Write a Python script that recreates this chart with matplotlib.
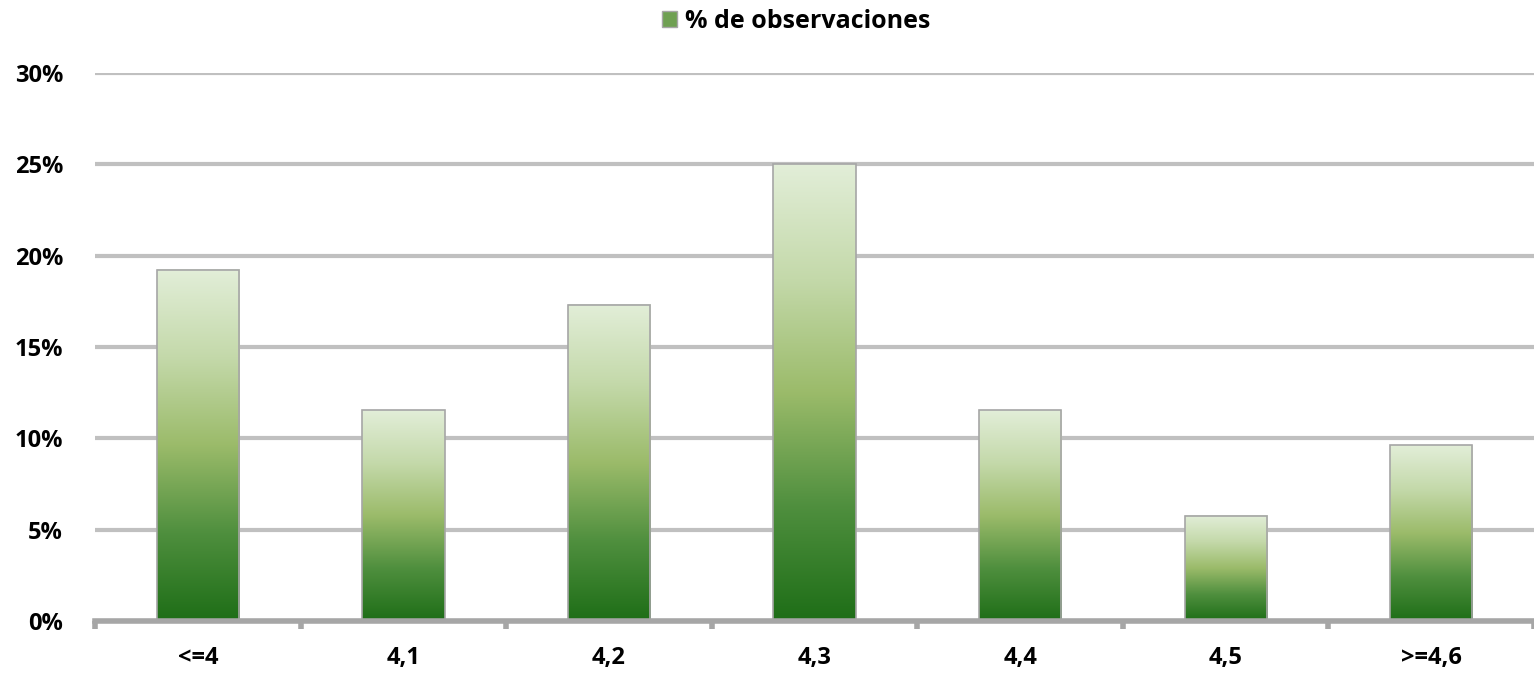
import matplotlib.pyplot as plt
import numpy as np
from matplotlib.colors import LinearSegmentedColormap
from matplotlib.patches import Patch

# Data
categories = ['<=4', '4,1', '4,2', '4,3', '4,4', '4,5', '>=4,6']
pct_obs = [19.23, 11.54, 17.31, 25.0, 11.54, 5.77, 9.62]
yticks = [0, 5, 10, 15, 20, 25, 30]
legend_label = '% de observaciones'

plt.rcParams['font.family'] = ['Open Sans', 'DejaVu Sans']
plt.rcParams['font.weight'] = 'bold'

green = LinearSegmentedColormap.from_list(
    'grn', ['#1e6e17', '#4f8f3e', '#9bbb6a', '#c4d9aa', '#e2eed8'])

fig = plt.figure(figsize=(15.34, 6.79), dpi=100)
ax = fig.add_axes([0.062, 0.0854, 0.938, 0.807])

x = np.arange(len(categories))
width = 0.4
bars = ax.bar(x, pct_obs, width=width, color='none', edgecolor='#a6a6a6',
              linewidth=1.2, zorder=4)

# gradient fill for each bar
grad = np.linspace(0, 1, 256).reshape(-1, 1)
for b in bars:
    x0, y0 = b.get_x(), b.get_y()
    ax.imshow(grad, cmap=green, origin='lower', aspect='auto',
              extent=(x0, x0 + b.get_width(), y0, y0 + b.get_height()),
              zorder=3, interpolation='bicubic')

ax.set_xlim(-0.5, len(categories) - 0.5)
ax.set_ylim(0, 30)
ax.set_yticks(yticks)
ax.set_yticklabels([f'{v}%' for v in yticks], fontsize=17, fontweight='bold')
ax.set_xticks(x)
ax.set_xticklabels(categories, fontsize=17, fontweight='bold')
ax.tick_params(axis='x', which='major', length=0, pad=18)
ax.tick_params(axis='y', length=0, pad=23)
ax.set_xticks(np.arange(-0.5, len(categories)), minor=True)
ax.tick_params(axis='x', which='minor', length=6, width=4, color='#a6a6a6',
               direction='out')

ax.yaxis.grid(True, color='#c0c0c0', linewidth=3, zorder=0)
ax.set_axisbelow(True)
for s in ['top', 'right', 'left']:
    ax.spines[s].set_visible(False)
ax.spines['bottom'].set_color('#a6a6a6')
ax.spines['bottom'].set_linewidth(4)
ax.spines['bottom'].set_zorder(5)

handle = Patch(facecolor='#6fa052', edgecolor='#a6a6a6')
fig.legend([handle], [legend_label], loc='upper center',
           bbox_to_anchor=(0.519, 1.02), frameon=False,
           prop={'size': 18, 'weight': 'bold'}, handlelength=0.6,
           handleheight=0.6, handletextpad=0.3)

plt.savefig('out.png', dpi=100)
